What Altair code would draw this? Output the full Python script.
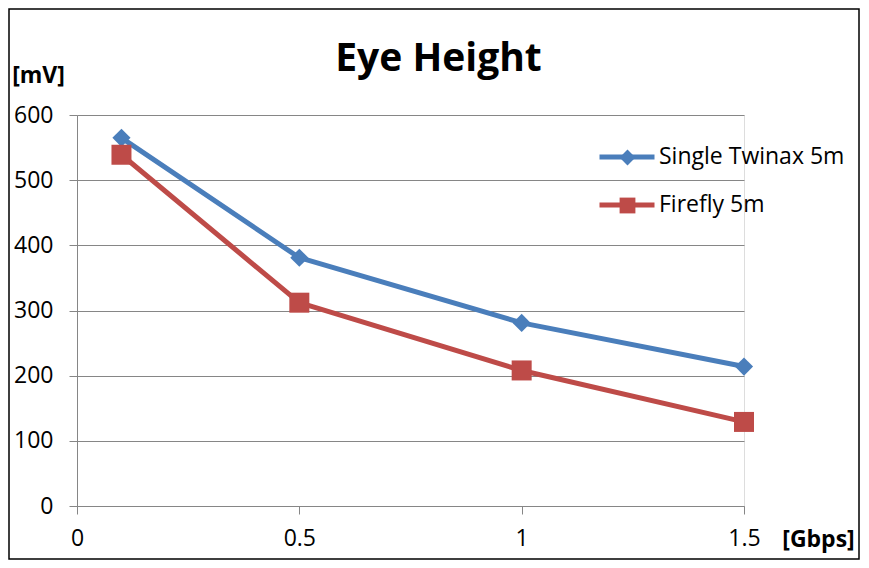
import altair as alt
import pandas as pd

x_rates = [0.1, 0.5, 1.0, 1.5]
series_names = ["Single Twinax 5m", "Firefly 5m"]
twinax_mv = [565, 381, 281, 214]
firefly_mv = [539, 312, 208, 129]
y_ticks = [0, 100, 200, 300, 400, 500, 600]
x_ticks = [0, 0.5, 1, 1.5]
colors = ["#4A7EBB", "#BE4B48"]

rows = []
for xv, v in zip(x_rates, twinax_mv):
    rows.append({"rate": xv, "mv": v, "series": series_names[0]})
for xv, v in zip(x_rates, firefly_mv):
    rows.append({"rate": xv, "mv": v, "series": series_names[1]})
df = pd.DataFrame(rows)

FONT = "Open Sans"
FS = 23

xenc = alt.X("rate:Q",
             scale=alt.Scale(domain=[0, 1.5], nice=False, zero=True),
             axis=alt.Axis(values=x_ticks, grid=False, tickSize=8, tickColor="#868686",
                           domainColor="#868686", labelFontSize=FS, labelColor="#000",
                           labelFont=FONT, labelPadding=13, labelFlush=False,
                           labelExpr="datum.value == 0 ? '0' : format(datum.value, '.1~f')",
                           title="[Gbps]", titleFont=FONT, titleFontSize=FS,
                           titleFontWeight="bold", titleColor="#000",
                           titleX=741, titleY=33, titleAlign="center",
                           titleBaseline="middle", titleAnchor="start"))
yenc = alt.Y("mv:Q",
             scale=alt.Scale(domain=[0, 600], nice=False),
             axis=alt.Axis(values=y_ticks, grid=True, gridColor="#868686", gridWidth=1,
                           tickSize=8, tickColor="#868686", domainColor="#868686",
                           labelFontSize=FS, labelColor="#000", labelFont=FONT,
                           labelPadding=16,
                           title="[mV]", titleFont=FONT, titleFontSize=FS,
                           titleFontWeight="bold", titleColor="#000",
                           titleAngle=0, titleX=-39, titleY=-40, titleAlign="center",
                           titleBaseline="middle", titleAnchor="start"))

line_legend = alt.Legend(orient="none", legendX=520, legendY=12, title=None,
                         symbolType="stroke", symbolSize=3025, symbolStrokeWidth=5,
                         labelFont=FONT, labelFontSize=FS, labelColor="#000",
                         labelOffset=2, rowPadding=6, padding=0, labelLimit=300)
pt_legend = alt.Legend(orient="none", legendX=541, legendY=33, title=None,
                       symbolSize=250, symbolStrokeWidth=0,
                       labelFont=FONT, labelFontSize=19, labelExpr="''",
                       rowPadding=28, padding=0)

lines = alt.Chart(df).mark_line(strokeWidth=5, strokeCap="round", strokeJoin="round").encode(
    x=xenc, y=yenc,
    color=alt.Color("series:N", scale=alt.Scale(domain=series_names, range=colors),
                    legend=line_legend),
    detail="series:N",
)

points = alt.Chart(df).mark_point(filled=True, opacity=1, strokeWidth=0).encode(
    x="rate:Q", y="mv:Q",
    fill=alt.Fill("series:N", scale=alt.Scale(domain=series_names, range=colors),
                  legend=pt_legend),
    shape=alt.Shape("series:N", scale=alt.Scale(domain=series_names, range=["diamond", "square"]),
                    legend=pt_legend),
    size=alt.Size("series:N", scale=alt.Scale(domain=series_names, range=[330, 400]), legend=None),
)

border = alt.Chart(pd.DataFrame({"k": [0]})).mark_rect(
    fill=None, stroke="#000", strokeWidth=1.5, clip=False
).encode(x=alt.value(-68), x2=alt.value(782), y=alt.value(-106), y2=alt.value(444))

chart = alt.layer(border, lines, points).resolve_scale(
    color="independent", fill="independent", shape="independent"
).properties(
    width=667, height=391,
    padding={"left": 69, "top": 107, "right": 116, "bottom": 54},
    autosize=alt.AutoSizeParams(type="none"),
    title=alt.TitleParams("Eye Height", font=FONT, fontSize=39, fontWeight="bold",
                          color="#000", anchor="middle", dx=28, offset=0, dy=102,
                          baseline="alphabetic"),
).configure_view(stroke=None).configure(background="white")

chart.save("out.html", embed_options={"renderer": "svg", "actions": False})
